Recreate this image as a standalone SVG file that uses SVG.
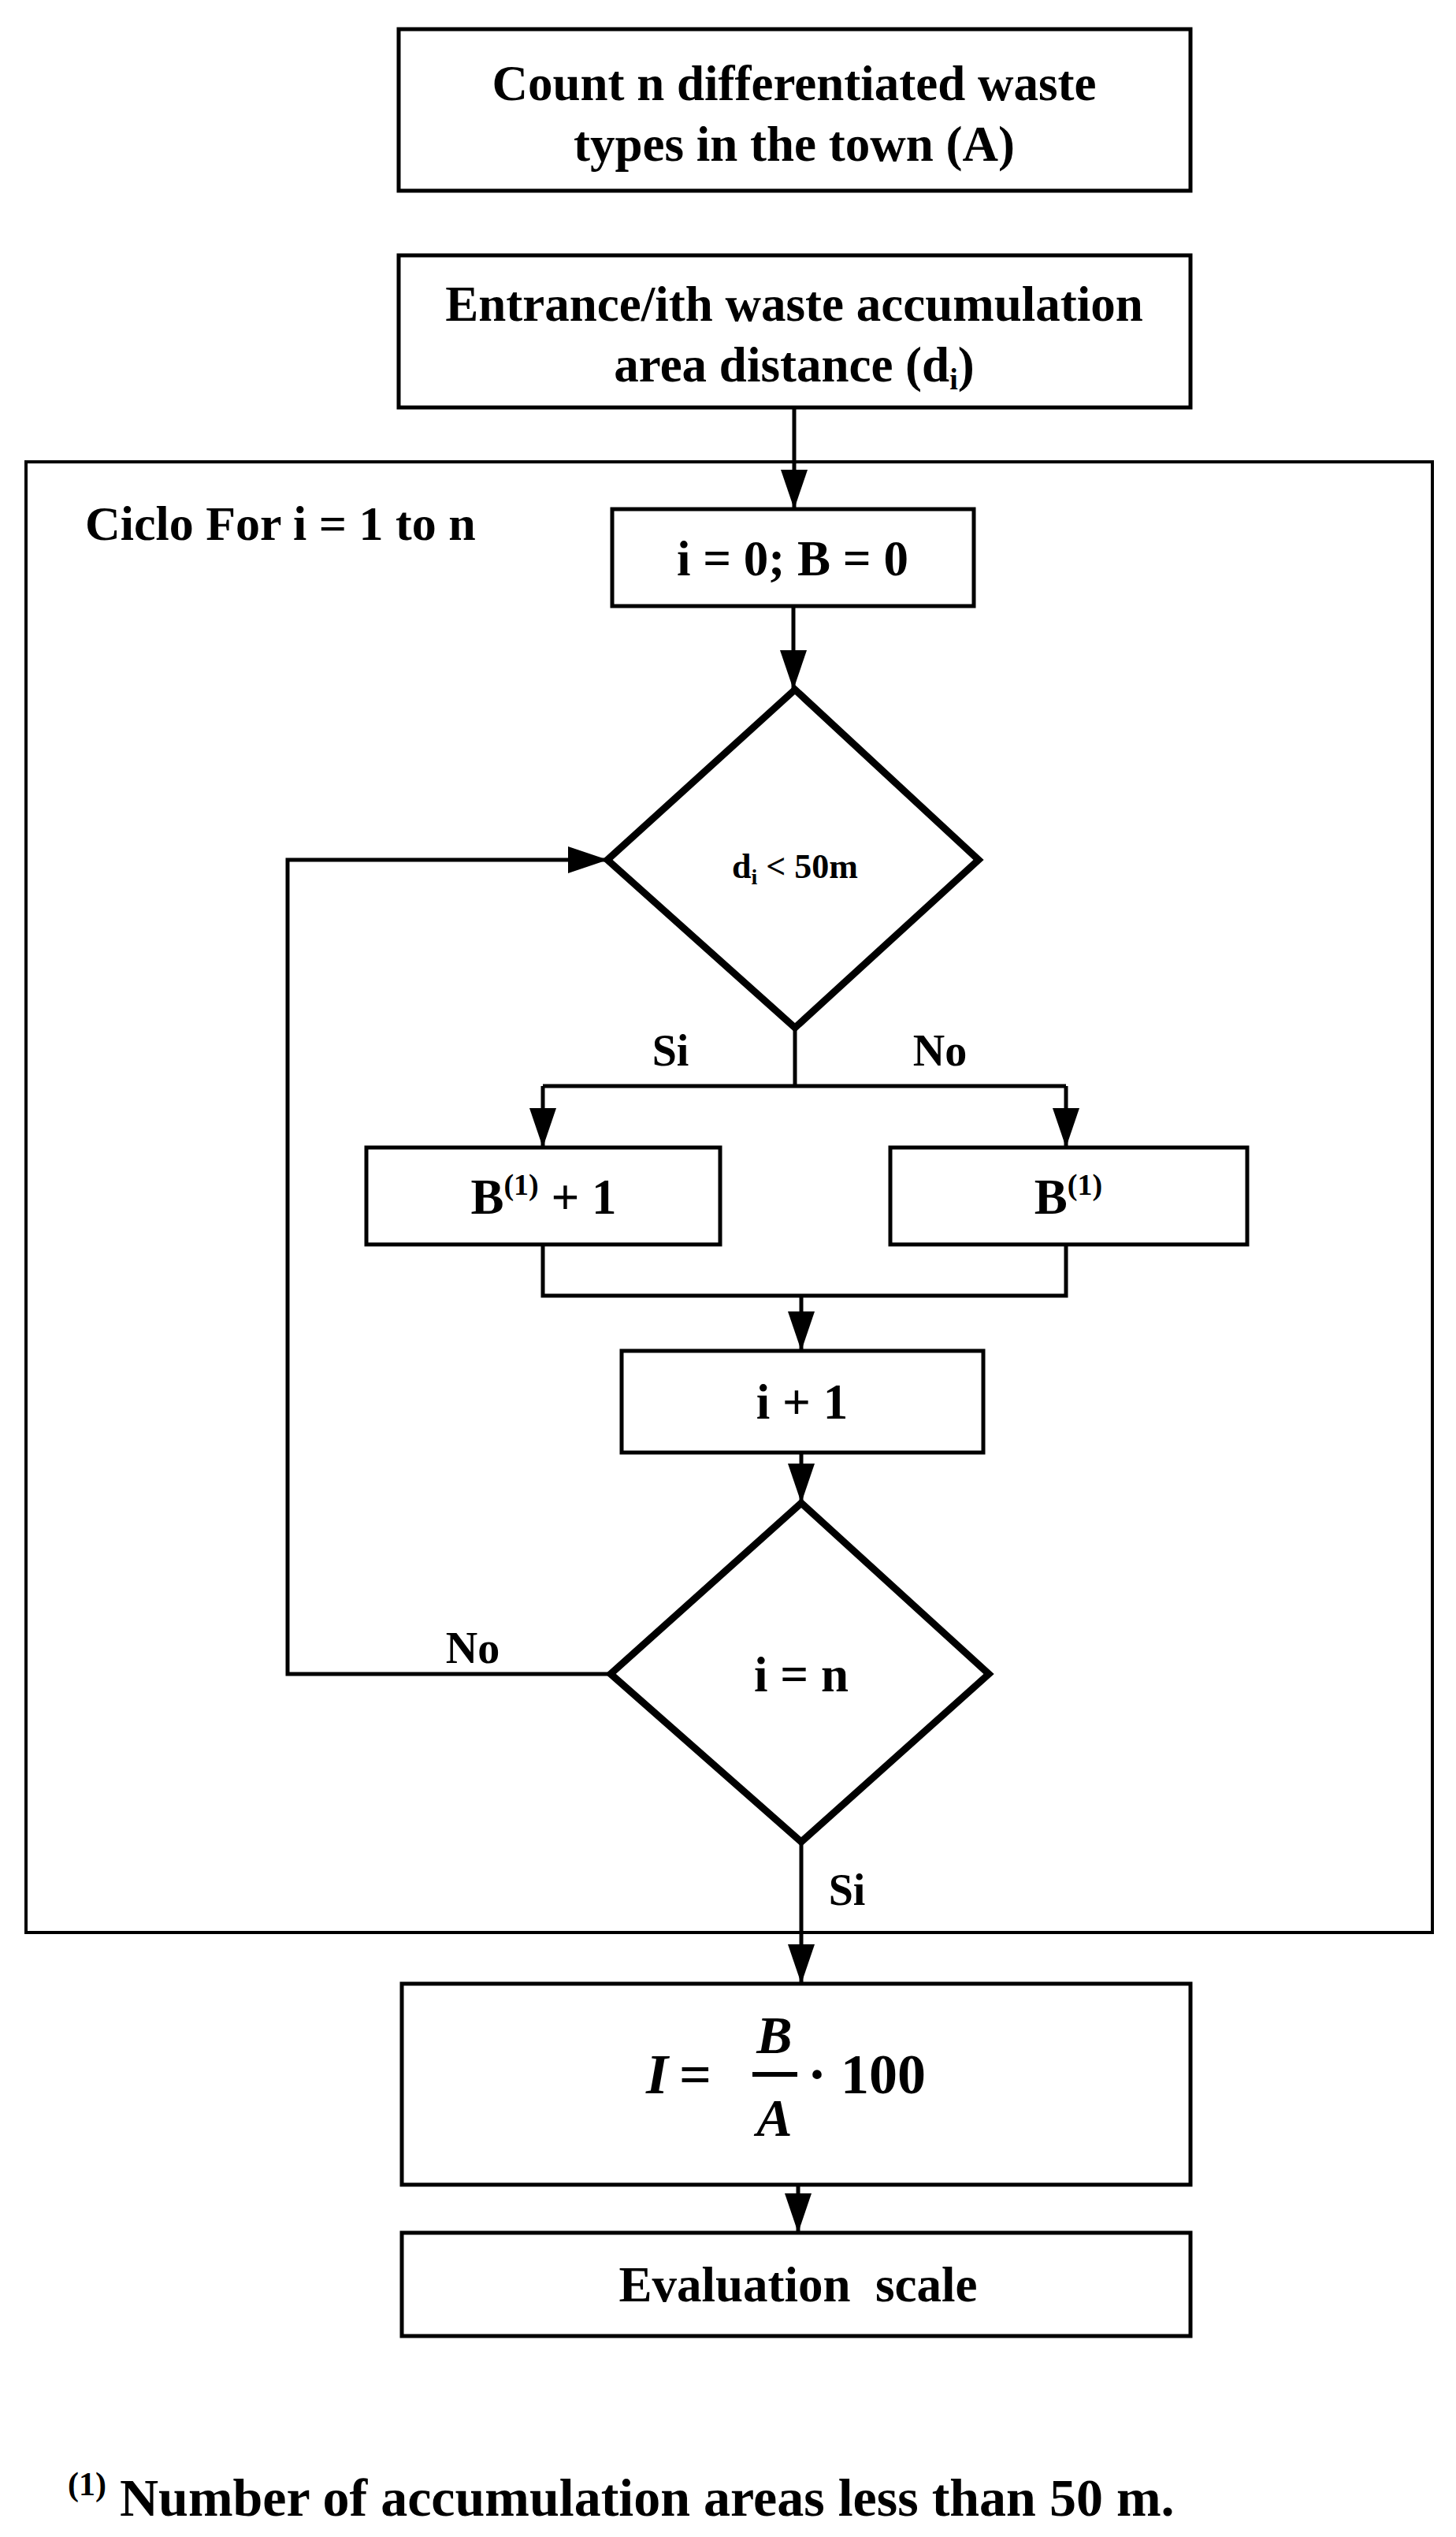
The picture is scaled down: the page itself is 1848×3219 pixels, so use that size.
<svg xmlns="http://www.w3.org/2000/svg" width="1848" height="3219" viewBox="0 0 1848 3219">
<style>
text{font-family:"Liberation Serif","Times New Roman",serif;font-weight:bold;fill:#000}
.b{fill:#fff;stroke:#000;stroke-width:5}
.d{fill:#fff;stroke:#000;stroke-width:9;stroke-linejoin:miter}
.c{fill:none;stroke:#000;stroke-width:5}
.t{font-size:63px;text-anchor:middle}
.l{font-size:56px;text-anchor:middle}
</style>
<defs>
<marker id="a" viewBox="0 0 10 10" refX="10" refY="5" markerWidth="50" markerHeight="50" markerUnits="userSpaceOnUse" orient="auto"><path d="M0,1.6L10,5L0,8.4z"/></marker></defs>
<rect x="33" y="586" width="1785" height="1866" fill="none" stroke="#000" stroke-width="4"/>
<text x="108" y="685" font-size="62px">Ciclo For i = 1 to n</text>
<g id="n1"><rect class="b" x="506" y="37" width="1005" height="205"/><text class="t" x="1008" y="127">Count n differentiated waste</text><text class="t" x="1008" y="204">types in the town (A)</text></g>
<g id="n2"><rect class="b" x="506" y="324" width="1005" height="193"/><text class="t" x="1008" y="407">Entrance/ith waste accumulation</text><text class="t" x="1008" y="484">area distance (d<tspan font-size="38px" dy="10">i</tspan><tspan dy="-10">)</tspan></text></g>
<g id="n3"><rect class="b" x="777" y="646" width="459" height="123"/><text class="t" x="1006" y="730">i = 0; B = 0</text></g>
<g id="n4"><path class="d" d="M1009,875L1242,1091L1009,1304L771,1091Z"/><text x="1009" y="1114" font-size="44px" text-anchor="middle">d<tspan font-size="28px" dy="8">i</tspan><tspan dy="-8"> &lt; 50m</tspan></text></g>
<g id="n5"><rect class="b" x="465" y="1456" width="449" height="123"/><text class="t" x="690" y="1540">B<tspan font-size="38px" dy="-24">(1)</tspan><tspan dy="24"> + 1</tspan></text></g>
<g id="n6"><rect class="b" x="1130" y="1456" width="453" height="123"/><text class="t" x="1356" y="1540">B<tspan font-size="38px" dy="-24">(1)</tspan></text></g>
<g id="n7"><rect class="b" x="789" y="1714" width="459" height="129"/><text class="t" x="1018" y="1800">i + 1</text></g>
<g id="n8"><path class="d" d="M1017,1907L1255,2124L1017,2337L775,2124Z"/><text class="t" x="1017" y="2146">i = n</text></g>
<g id="n9"><rect class="b" x="510" y="2517" width="1001" height="255"/><text x="820" y="2656" font-size="72px" font-style="italic">I</text><text x="862" y="2656" font-size="72px">=</text><text x="983" y="2605" font-size="68px" font-style="italic" text-anchor="middle">B</text><line x1="955" y1="2632" x2="1012" y2="2632" stroke="#000" stroke-width="6"/><text x="983" y="2710" font-size="68px" font-style="italic" text-anchor="middle">A</text><text x="1025" y="2656" font-size="72px">· 100</text></g>
<g id="n10"><rect class="b" x="510" y="2833" width="1001" height="131"/><text class="t" x="1013" y="2920" xml:space="preserve">Evaluation  scale</text></g>
<g id="conn">
<path class="c" d="M1008,517V646" marker-end="url(#a)"/>
<path class="c" d="M1007,769V875" marker-end="url(#a)"/>
<path class="c" d="M1009,1304V1378"/>
<path class="c" d="M689,1378H1353"/>
<path class="c" d="M689,1378V1456" marker-end="url(#a)"/>
<path class="c" d="M1353,1378V1456" marker-end="url(#a)"/>
<path class="c" d="M689,1579V1644H1353V1579"/>
<path class="c" d="M1017,1644V1714" marker-end="url(#a)"/>
<path class="c" d="M1017,1843V1907" marker-end="url(#a)"/>
<path class="c" d="M775,2124H365V1091H771" marker-end="url(#a)"/>
<path class="c" d="M1017,2337V2517" marker-end="url(#a)"/>
<path class="c" d="M1013,2772V2833" marker-end="url(#a)"/>
<text class="l" x="851" y="1352">Si</text>
<text class="l" x="1193" y="1352">No</text>
<text class="l" x="600" y="2110">No</text>
<text class="l" x="1075" y="2417">Si</text>
</g>
<text x="86" y="3192" font-size="68px"><tspan font-size="42px" dy="-26">(1)</tspan><tspan dy="26"> Number of accumulation  areas less than 50 m.</tspan></text>
</svg>
